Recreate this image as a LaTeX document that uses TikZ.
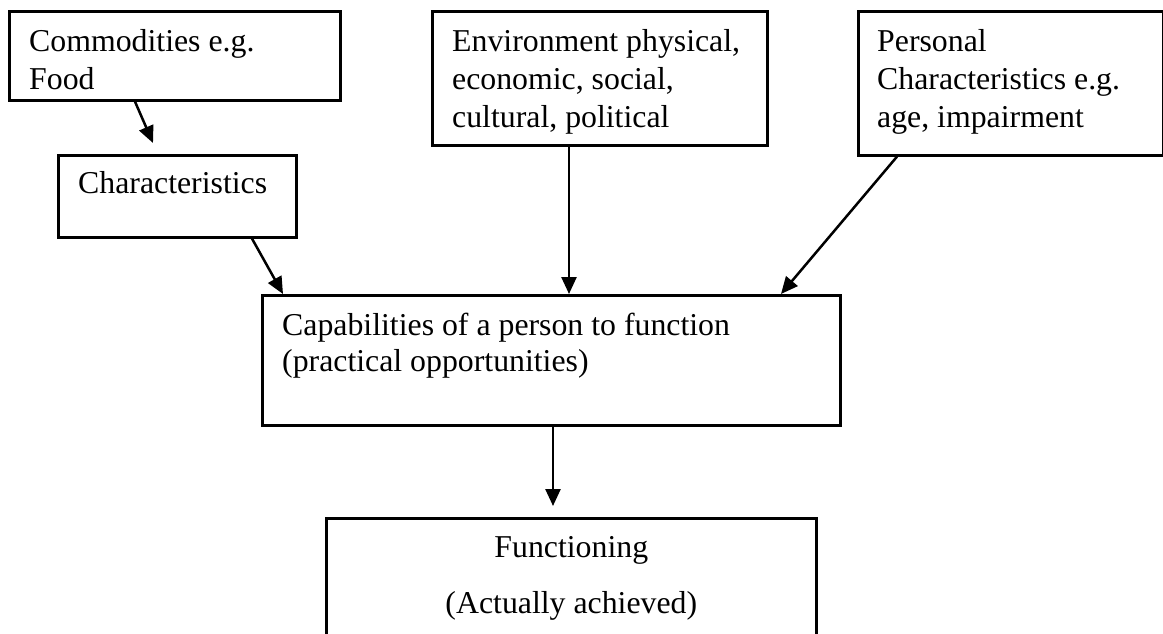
\documentclass[tikz,border=0pt]{standalone}
\usepackage{fontspec}
\setmainfont{Liberation Serif}
\usetikzlibrary{arrows.meta}
\begin{document}
\begin{tikzpicture}[x=1pt,y=-1pt,
  box/.style={draw=black, line width=2.6pt, anchor=north west, inner sep=0pt, fill=none},
  txt/.style={anchor=base west, inner sep=0pt, align=left,
    font=\fontsize{31.8}{38}\selectfont},
  ctxt/.style={anchor=base, inner sep=0pt, align=center,
    font=\fontsize{31.8}{38}\selectfont},
  arr/.style={line width=2.5pt, -{Triangle[length=17pt,width=15pt]}}]
\useasboundingbox (0,0) rectangle (1163,633);
\clip (0,0) rectangle (1163,633);
\fill[white] (0,0) rectangle (1163,633);
% boxes
\node[box, minimum width=331pt, minimum height=89pt] (comm) at (8,10) {};
\node[box, minimum width=238pt, minimum height=82pt] (charb) at (57,154) {};
\node[box, minimum width=335pt, minimum height=134pt] (env) at (431,10) {};
\node[box, minimum width=305pt, minimum height=144pt] (pers) at (857,10) {};
\node[box, minimum width=578pt, minimum height=130pt] (cap) at (261,294) {};
\node[box, minimum width=490pt, minimum height=117pt] (func) at (325,517) {};
% texts (anchor is the baseline of the last line)
\node[txt] (tcomm) at ([shift={(21,79)}]comm.north west) {Commodities e.g.\\Food};
\node[txt] (tchar) at ([shift={(21,39)}]charb.north west) {Characteristics};
\node[txt] (tenv) at ([shift={(21,117)}]env.north west) {Environment physical,\\economic, social,\\cultural, political};
\node[txt] (tpers) at ([shift={(20,117)}]pers.north west) {Personal\\Characteristics e.g.\\age, impairment};
\node[txt, font=\fontsize{31.8}{36}\selectfont] (tcap) at ([shift={(21,77)}]cap.north west) {Capabilities of a person to function\\(practical opportunities)};
\node[ctxt] (tfunc) at ([shift={(0,96)}]func.north) {Functioning\\[18pt](Actually achieved)};
% free arrow ends
\coordinate (e1) at (153,143);
\coordinate (e5) at (553,506);
% connectors
\draw[arr] ([xshift=127pt]comm.south west) -- (e1);
\draw[arr] ([xshift=195pt]charb.south west) -- ([xshift=22pt]cap.north west);
\draw[arr] ([xshift=138pt]env.south west) -- ([xshift=138pt]env.south west |- cap.north);
\draw[arr] ([xshift=40pt]pers.south west) -- ([xshift=520pt]cap.north west);
\draw[arr] ([xshift=292pt]cap.south west) -- (e5);
\end{tikzpicture}
\end{document}
